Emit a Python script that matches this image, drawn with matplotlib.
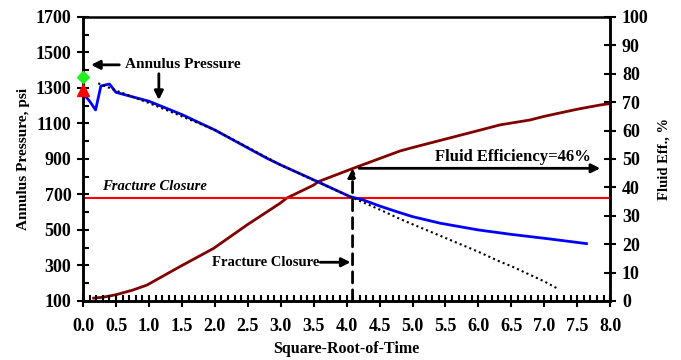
import numpy as np
import matplotlib.pyplot as plt
from matplotlib.ticker import MultipleLocator, FormatStrFormatter

plt.rcParams['font.family'] = ['Liberation Serif', 'DejaVu Serif']
plt.rcParams['font.weight'] = 'bold'

# annulus pressure (psi) vs square-root-of-time
t_press = [0.0, 0.1, 0.19, 0.27, 0.4, 0.5, 0.75, 1.0, 1.14, 1.5, 2.0, 2.5, 2.79, 3.0,
           3.5, 4.05, 4.25, 4.5, 4.76, 5.0, 5.42, 6.0, 6.5, 7.09, 7.64]
press = [1270, 1225, 1176, 1311, 1322, 1275, 1250, 1225, 1204, 1150, 1063, 962, 904, 866,
         782, 688, 669, 635, 603, 575, 538, 500, 475, 449, 423]

# straight-line fit (dotted)
t_fit = [0.23, 0.5, 1.0, 1.5, 2.0, 2.5, 3.0, 3.5, 4.05, 4.5, 4.81, 5.0, 5.57, 6.0, 6.33,
         6.5, 7.0, 7.19]
fit = [1326, 1285, 1215, 1140, 1063, 965, 866, 780, 688, 615, 562, 532, 444, 377, 321,
       296, 210, 172]

# fluid efficiency (%)
t_eff = [0.16, 0.3, 0.5, 0.75, 0.97, 1.47, 1.98, 2.49, 2.99, 3.09, 3.5, 3.57, 4.1, 4.81,
         5.0, 5.5, 6.0, 6.33, 6.78, 7.0, 7.5, 7.85, 8.0]
eff = [1.0, 1.3, 2.2, 3.8, 5.6, 12.1, 18.5, 26.8, 34.4, 36.2, 40.8, 42.0, 46.7, 52.8,
       54.0, 57.0, 60.0, 62.0, 63.7, 65.0, 67.5, 69.0, 69.5]

closure_p = 682
closure_t = 4.09
isip_p = 1362
first_p = 1289

fig = plt.figure(figsize=(6.81, 3.6), dpi=100)
ax = fig.add_axes([0.122, 0.164, 0.774, 0.789])
ax2 = ax.twinx()

ax.set_xlim(0, 8)
ax.set_ylim(100, 1700)
ax2.set_ylim(0, 100)

ax2.plot(t_eff, eff, color='#800000', lw=2)
ax.plot(t_press, press, color='#0000ff', lw=2, zorder=3)
ax.plot(t_fit, fit, color='black', lw=1.5, ls=(0, (1, 1.5)), zorder=4)
ax.axhline(closure_p, color='red', lw=1.5)
ax.plot([0.0], [isip_p], marker='D', color='#22ee22', ms=6, clip_on=False, zorder=6)
ax.plot([0.0], [first_p], marker='^', color='red', ms=8, clip_on=False, zorder=6)

ax.set_zorder(ax2.get_zorder() + 1)
ax.patch.set_visible(False)

# ticks
ax.xaxis.set_major_locator(MultipleLocator(0.5))
ax.xaxis.set_minor_locator(MultipleLocator(0.1))
ax.xaxis.set_major_formatter(FormatStrFormatter('%.1f'))
ax.set_yticks(np.arange(100, 1701, 200))
ax.set_yticks(np.arange(200, 1700, 200), minor=True)
ax2.yaxis.set_major_locator(MultipleLocator(10))
ax.tick_params(which='major', direction='inout', length=9, width=1.5, labelsize=13)
ax.tick_params(which='minor', direction='in', length=4.5, width=1.5)
ax.tick_params(axis='x', which='major', pad=8)
ax.tick_params(axis='y', which='major', pad=4)
ax2.tick_params(which='major', direction='inout', length=9, width=1.5, labelsize=13, pad=4)
ax.tick_params(top=False, right=False, which='both')
for a in (ax, ax2):
    for s in a.spines.values():
        s.set_linewidth(1.8)
ax.spines['top'].set_visible(False)

for lab in ax.get_xticklabels() + ax.get_yticklabels() + ax2.get_yticklabels():
    lab.set_fontweight('bold')

ax.set_xlabel('Square-Root-of-Time', fontsize=11.5, fontweight='bold', labelpad=4)
ax.set_ylabel('Annulus Pressure, psi', fontsize=11, fontweight='bold', labelpad=4)
ax2.set_ylabel('Fluid Eff., %', fontsize=10.5, fontweight='bold', labelpad=6)

# annotations
arrow = dict(arrowstyle='-|>', color='black', lw=2, mutation_scale=13, shrinkA=0, shrinkB=0)
ax.annotate('', xy=(0.12, 1430), xytext=(0.55, 1430), arrowprops=arrow)
ax.text(0.63, 1430, 'Annulus Pressure', fontsize=11, fontweight='bold', va='center')
ax.annotate('', xy=(1.15, 1232), xytext=(1.15, 1380), arrowprops=arrow)

ax.text(0.28, 742, 'Fracture Closure', fontsize=10.5, fontweight='bold', style='italic',
        va='center')

ax.annotate('', xy=(closure_t, 46.7), xytext=(closure_t, 0),
            xycoords=ax2.transData, textcoords=ax2.transData,
            arrowprops=dict(arrowstyle='-|>', color='black', lw=2, ls=(0, (4, 2.5)),
                            mutation_scale=13, shrinkA=0, shrinkB=0))
ax2.annotate('', xy=(7.85, 46.7), xytext=(4.19, 46.7), arrowprops=arrow)
ax2.text(6.52, 50.6, 'Fluid Efficiency=46%', fontsize=12, fontweight='bold',
         ha='center', va='center')

ax.annotate('', xy=(closure_t - 0.03, 318), xytext=(3.6, 318), arrowprops=arrow)
ax.text(3.58, 314, 'Fracture Closure', fontsize=10.5, fontweight='bold', ha='right',
        va='center')

fig.savefig('out.png', dpi=100)
